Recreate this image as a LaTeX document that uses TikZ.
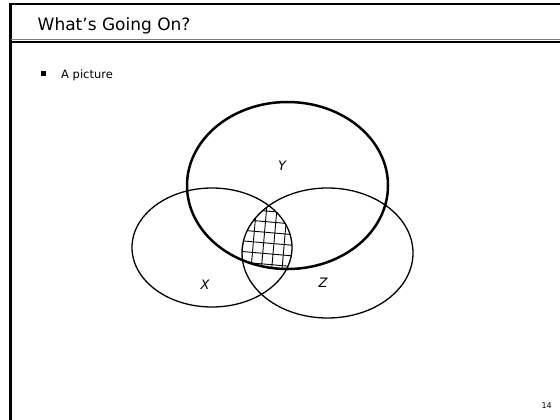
\documentclass[tikz,border=0pt]{standalone}
\usepackage{fontspec}
\setmainfont{DejaVu Sans}
\tikzset{
  frameline/.style={line width=2.6pt},
  setthin/.style={line width=1.3pt},
  setthick/.style={line width=2.5pt},
  hatchline/.style={line width=0.9pt},
  setlabel/.style={font=\fontsize{13}{15}\selectfont\itshape, inner sep=0pt}
}
\begin{document}
\begin{tikzpicture}[x=1pt,y=-1pt]
  \useasboundingbox (0,0) rectangle (560,420);
  % slide frame and title bar
  \draw[frameline] (10.5,420) -- (10.5,4) -- (560,4);
  \draw[line width=0.8pt, gray] (10.5,39.3) -- (560,39.3);
  \draw[line width=1.6pt] (10.5,42.3) -- (560,42.3);
  \node[anchor=base west, inner sep=0pt, font=\fontsize{17}{20}\selectfont] (title) at (37.5,30.5) {What’s Going On?};
  \fill (41,71.5) rectangle (45.5,76);
  \node[anchor=base west, inner sep=0pt, font=\fontsize{11.5}{14}\selectfont] (item) at (61,78) {A picture};
  % hatched part: inside X, Z and Y
  \begin{scope}
    \clip (212,247.5) ellipse [x radius=80, y radius=59.5];
    \clip (327.5,253) ellipse [x radius=85.5, y radius=65];
    \clip (287.5,185.5) ellipse [x radius=100.5, y radius=83.5];
    \begin{scope}[rotate around={-5:(268,240)}]
      \foreach \gx in {222.7,233,...,320}
        \draw[hatchline] (\gx,190) -- (\gx,300);
      \foreach \gy in {190.1,200.7,...,300}
        \draw[hatchline] (220,\gy) -- (320,\gy);
    \end{scope}
  \end{scope}
  % the three sets
  \draw[setthin] (212,247.5) ellipse [x radius=80, y radius=59.5];
  \draw[setthin] (327.5,253) ellipse [x radius=85.5, y radius=65];
  \draw[setthick] (287.5,185.5) ellipse [x radius=100.5, y radius=83.5];
  \node[setlabel] (ylab) at (282,166) {Y};
  \node[setlabel] (xlab) at (205,285) {X};
  \node[setlabel] (zlab) at (323,283) {Z};
  \node[anchor=base east, inner sep=0pt, font=\fontsize{8}{10}\selectfont] (page) at (552,408) {14};
\end{tikzpicture}
\end{document}
